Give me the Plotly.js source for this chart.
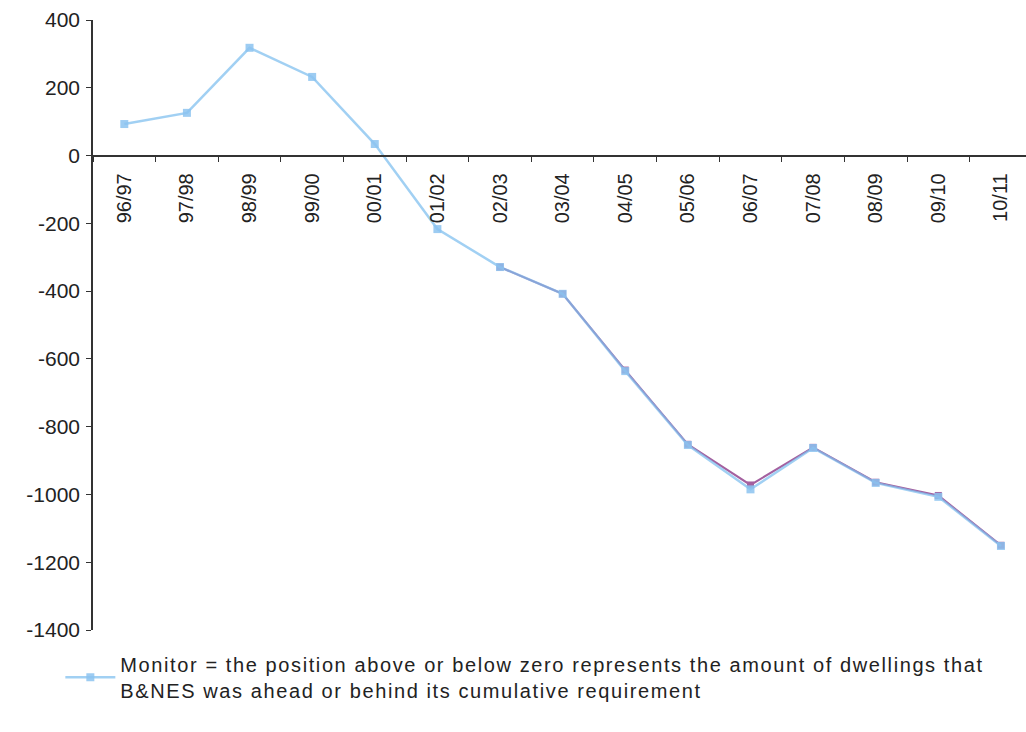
<!DOCTYPE html>
<html>
<head>
<meta charset="utf-8">
<script src="https://cdn.plot.ly/plotly-3.0.1.min.js"></script>
<style>
html,body{margin:0;padding:0;background:#fff;}
#chart{width:1026px;height:732px;}
.legendtext{letter-spacing:1.6px;}
</style>
</head>
<body>
<div id="chart"></div>
<script>
const years = ["96/97","97/98","98/99","99/00","00/01","01/02","02/03","03/04","04/05","05/06","06/07","07/08","08/09","09/10","10/11"];
const monitor = [93, 126, 318, 232, 34, -217, -329, -408, -636, -854, -985, -863, -966, -1007, -1152];
const secondYears = ["02/03","03/04","04/05","05/06","06/07","07/08","08/09","09/10","10/11"];
const secondSeries = [-329, -408, -633, -852, -972, -861, -964, -1003, -1150];
const yTickVals = [400, 200, 0, -200, -400, -600, -800, -1000, -1200, -1400];
const yTickText = ["400", "200", "0", "-200", "-400", "-600", "-800", "-1000", "-1200", "-1400"];

const yMin = -1400, yMax = 400;
const zeroPos = (0 - yMin) / (yMax - yMin);

const traces = [
  {
    x: secondYears, y: secondSeries, type: 'scatter', mode: 'lines+markers',
    name: 'Requirement', showlegend: false,
    line: {color: '#a4609f', width: 2},
    marker: {symbol: 'square', size: 7, color: '#a4609f'}
  },
  {
    x: years, y: monitor, type: 'scatter', mode: 'lines+markers',
    name: 'Monitor = the position above or below zero represents the amount of dwellings that<br>B&NES was ahead or behind its cumulative requirement',
    line: {color: 'rgba(125,190,238,0.72)', width: 2.5},
    marker: {symbol: 'square', size: 8, color: 'rgba(140,195,240,0.85)'}
  }
];

const layout = {
  width: 1026, height: 732,
  margin: {l: 93, r: 0, t: 20, b: 102},
  paper_bgcolor: '#fff', plot_bgcolor: '#fff',
  font: {family: 'Liberation Sans, Arial, sans-serif', size: 17, color: '#222'},
  showlegend: true,
  legend: {
    x: -0.035, y: -0.024, xanchor: 'left', yanchor: 'top',
    font: {size: 20, color: '#222'}, bgcolor: 'rgba(0,0,0,0)',
    itemwidth: 50
  },
  xaxis: {
    type: 'category', categoryorder: 'array', categoryarray: years,
    range: [-0.5, 14.4],
    anchor: 'free', position: zeroPos,
    showline: true, linecolor: '#333', linewidth: 1.5,
    ticks: 'outside', ticklen: 6, tickcolor: '#333', tickson: 'boundaries',
    tickangle: -90, tickfont: {size: 20, color: '#222'},
    ticklabelstandoff: 9,
    showgrid: false, zeroline: false
  },
  yaxis: {
    range: [yMin, yMax],
    tickmode: 'array', tickvals: yTickVals, ticktext: yTickText,
    showline: true, linecolor: '#333', linewidth: 1.5,
    ticks: 'outside', ticklen: 5, tickcolor: '#333',
    tickfont: {size: 21, color: '#222'},
    ticklabelstandoff: 2,
    showgrid: false, zeroline: false
  }
};

Plotly.newPlot('chart', traces, layout, {displayModeBar: false});
</script>
</body>
</html>
